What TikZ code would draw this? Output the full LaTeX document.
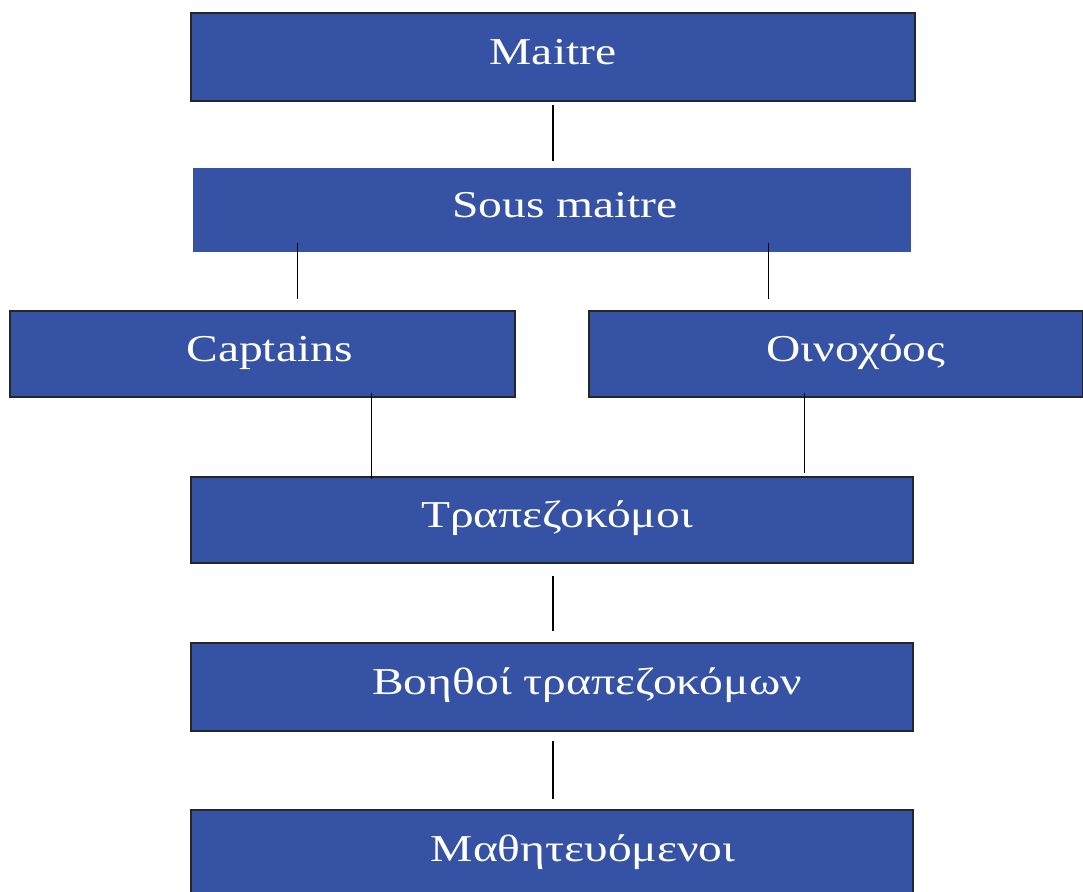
\documentclass[tikz,border=0pt]{standalone}
\usepackage{fontspec}
\setmainfont{Liberation Serif}
\usepackage{graphicx}
\usetikzlibrary{calc}
\definecolor{boxblue}{RGB}{54,82,165}
\newcommand{\stretchtxt}[1]{\scalebox{1.25}[1]{#1}}

\begin{document}
\begin{tikzpicture}[x=1pt,y=-1pt]
\tikzset{rank/.style={draw=black!85,line width=1.2pt,fill=boxblue,text=white,inner sep=0pt,
  minimum width=#1,minimum height=86pt,font=\fontsize{38}{44}\selectfont,text height=26pt,text depth=12pt},
  link/.style={draw=black,line width=1.6pt}}
\useasboundingbox[fill=white] (0,0) rectangle (1083,891);
\node[rank=724pt,minimum height=88pt] (maitre) at (553,57) {\stretchtxt{Maitre}};
\node[rank=718pt,minimum height=84pt,draw=none] (sous) at (552,210) {\hspace*{26pt}\stretchtxt{Sous maitre}};
\node[rank=505pt] (captains) at (262.5,354) {\hspace*{14pt}\stretchtxt{Captains}};
\node[rank=494pt] (oino) at (836,354) {\hspace*{40pt}\stretchtxt{Οινοχόος}};
\node[rank=722pt] (trap) at (552,520) {\hspace*{10pt}\stretchtxt{Τραπεζοκόμοι}};
\node[rank=722pt,minimum height=88pt] (voith) at (552,687) {\hspace*{70pt}\stretchtxt{Βοηθοί τραπεζοκόμων}};
\node[rank=722pt,minimum height=88pt] (mathi) at (552,854) {\hspace*{62pt}\stretchtxt{Μαθητευόμενοι}};
% connectors
\draw[link] ([yshift=-3pt]maitre.south) -- ([xshift=1pt,yshift=6pt]sous.north);
\draw[link] ($(sous.south west)+(105,-10)$) -- ($(captains.north west)+(288,-11)$);
\draw[link] ($(sous.south west)+(576,-10)$) -- ($(oino.north west)+(180,-11)$);
\draw[link] ($(captains.south west)+(362,-5)$) -- ($(trap.north west)+(181,3)$);
\draw[link] ($(oino.south west)+(216,-5)$) -- ($(trap.north west)+(614,-3)$);
\draw[link] ([xshift=1pt,yshift=-12pt]trap.south) -- ([xshift=1pt,yshift=11pt]voith.north);
\draw[link] ([xshift=1pt,yshift=-9pt]voith.south) -- ([xshift=1pt,yshift=10pt]mathi.north);
\end{tikzpicture}
\end{document}
